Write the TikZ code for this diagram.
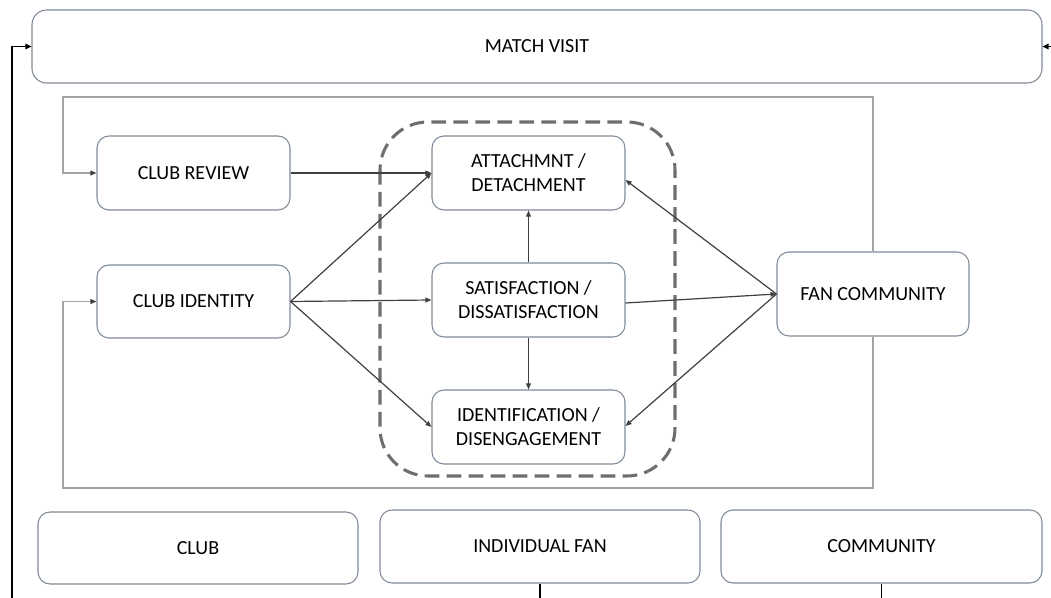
\documentclass[tikz,border=0pt]{standalone}
\usepackage{fontspec}
\setmainfont{Carlito}
\usetikzlibrary{arrows.meta,calc}
\definecolor{boxline}{HTML}{7F8A97}
\definecolor{arrowc}{HTML}{404040}
\definecolor{frameline}{HTML}{A3A3A3}
\definecolor{dashc}{HTML}{6E6E6E}
\tikzset{
  box/.style={draw=boxline, line width=0.8pt, rounded corners=9pt, fill=white,
    align=center, inner sep=2pt, font=\fontsize{15}{18}\selectfont},
  smallbox/.style={box, minimum width=144.75pt, minimum height=55.5pt},
  widebox/.style={box, minimum width=240pt, minimum height=54.75pt},
  conn/.style={draw=arrowc, line width=0.9pt, -{Triangle[length=4.5pt,width=3.6pt]}},
  frameconn/.style={draw=frameline, line width=1pt, -{Triangle[length=4.5pt,width=3.6pt,color=arrowc]}},
  outerconn/.style={draw=black, line width=1.2pt, -{Triangle[length=4.5pt,width=4pt]}},
  plainline/.style={draw=black, line width=1.2pt},
}
\begin{document}
\begin{tikzpicture}[x=0.75pt,y=-0.75pt]
\useasboundingbox (0,0) rectangle (1051,598);

% grouping of the three fan states
\draw[dashc, line width=2.3pt, dash pattern=on 11pt off 5.5pt, rounded corners=36pt]
  (380,122) rectangle (675,476);

% top bar
\node[box, minimum width=757.5pt, minimum height=54.75pt, rounded corners=11pt] (mv) at (537,46.5) {MATCH VISIT};

% left column
\node[smallbox] (review) at (193.5,173) {CLUB REVIEW};
\node[smallbox, minimum height=54.75pt] (identity) at (193.5,301.5) {CLUB IDENTITY};

% middle column
\node[smallbox] (attach) at (528.5,173) {ATTACHMNT /\\ DETACHMENT};
\node[smallbox] (satis) at (528.5,300) {SATISFACTION /\\ DISSATISFACTION};
\node[smallbox] (ident) at (528.5,427) {IDENTIFICATION /\\ DISENGAGEMENT};

% right
\node[smallbox, minimum width=144pt, minimum height=63pt] (fan) at (873,294) {FAN COMMUNITY};

% bottom row
\node[widebox, minimum height=54pt] (club) at (198,548) {CLUB};
\node[widebox] (indiv) at (540,546.5) {INDIVIDUAL FAN};
\node[widebox, minimum width=240.75pt] (comm) at (881.5,546.5) {COMMUNITY};

% feedback from the fan community
\draw[frameconn] (fan.north) -- (873,97) -- (63,97) -- (63,173) -- (review.west);
\draw[frameconn] (fan.south) -- (873,488) -- (63,488) -- (63,301.5) -- (identity.west);

% club influences
\draw[conn] (review.east) -- (attach.west);
\draw[conn] (identity.east) -- (attach.west);
\draw[conn] (identity.east) -- (satis.west);
\draw[conn] (identity.east) -- (ident.west);

% within the fan states
\draw[conn] (satis.north) -- (attach.south);
\draw[conn] (satis.south) -- (ident.north);

% fan community links
\draw[conn] (fan.west) -- ([yshift=-5.25pt]attach.east);
\draw[conn] ([yshift=-2.25pt]satis.east) -- (fan.west);
\draw[conn] (fan.west) -- ([yshift=0.75pt]ident.east);

% outer links
\coordinate (lb) at (12,598);
\coordinate (rt) at (1051,46.5);
\coordinate (ib) at (540,598);
\coordinate (cb) at (881.5,598);
\draw[outerconn] (lb) |- (mv.west);
\draw[outerconn] (rt) -- (mv.east);
\draw[plainline] (indiv.south) -- (ib);
\draw[plainline] (comm.south) -- (cb);
\end{tikzpicture}
\end{document}
